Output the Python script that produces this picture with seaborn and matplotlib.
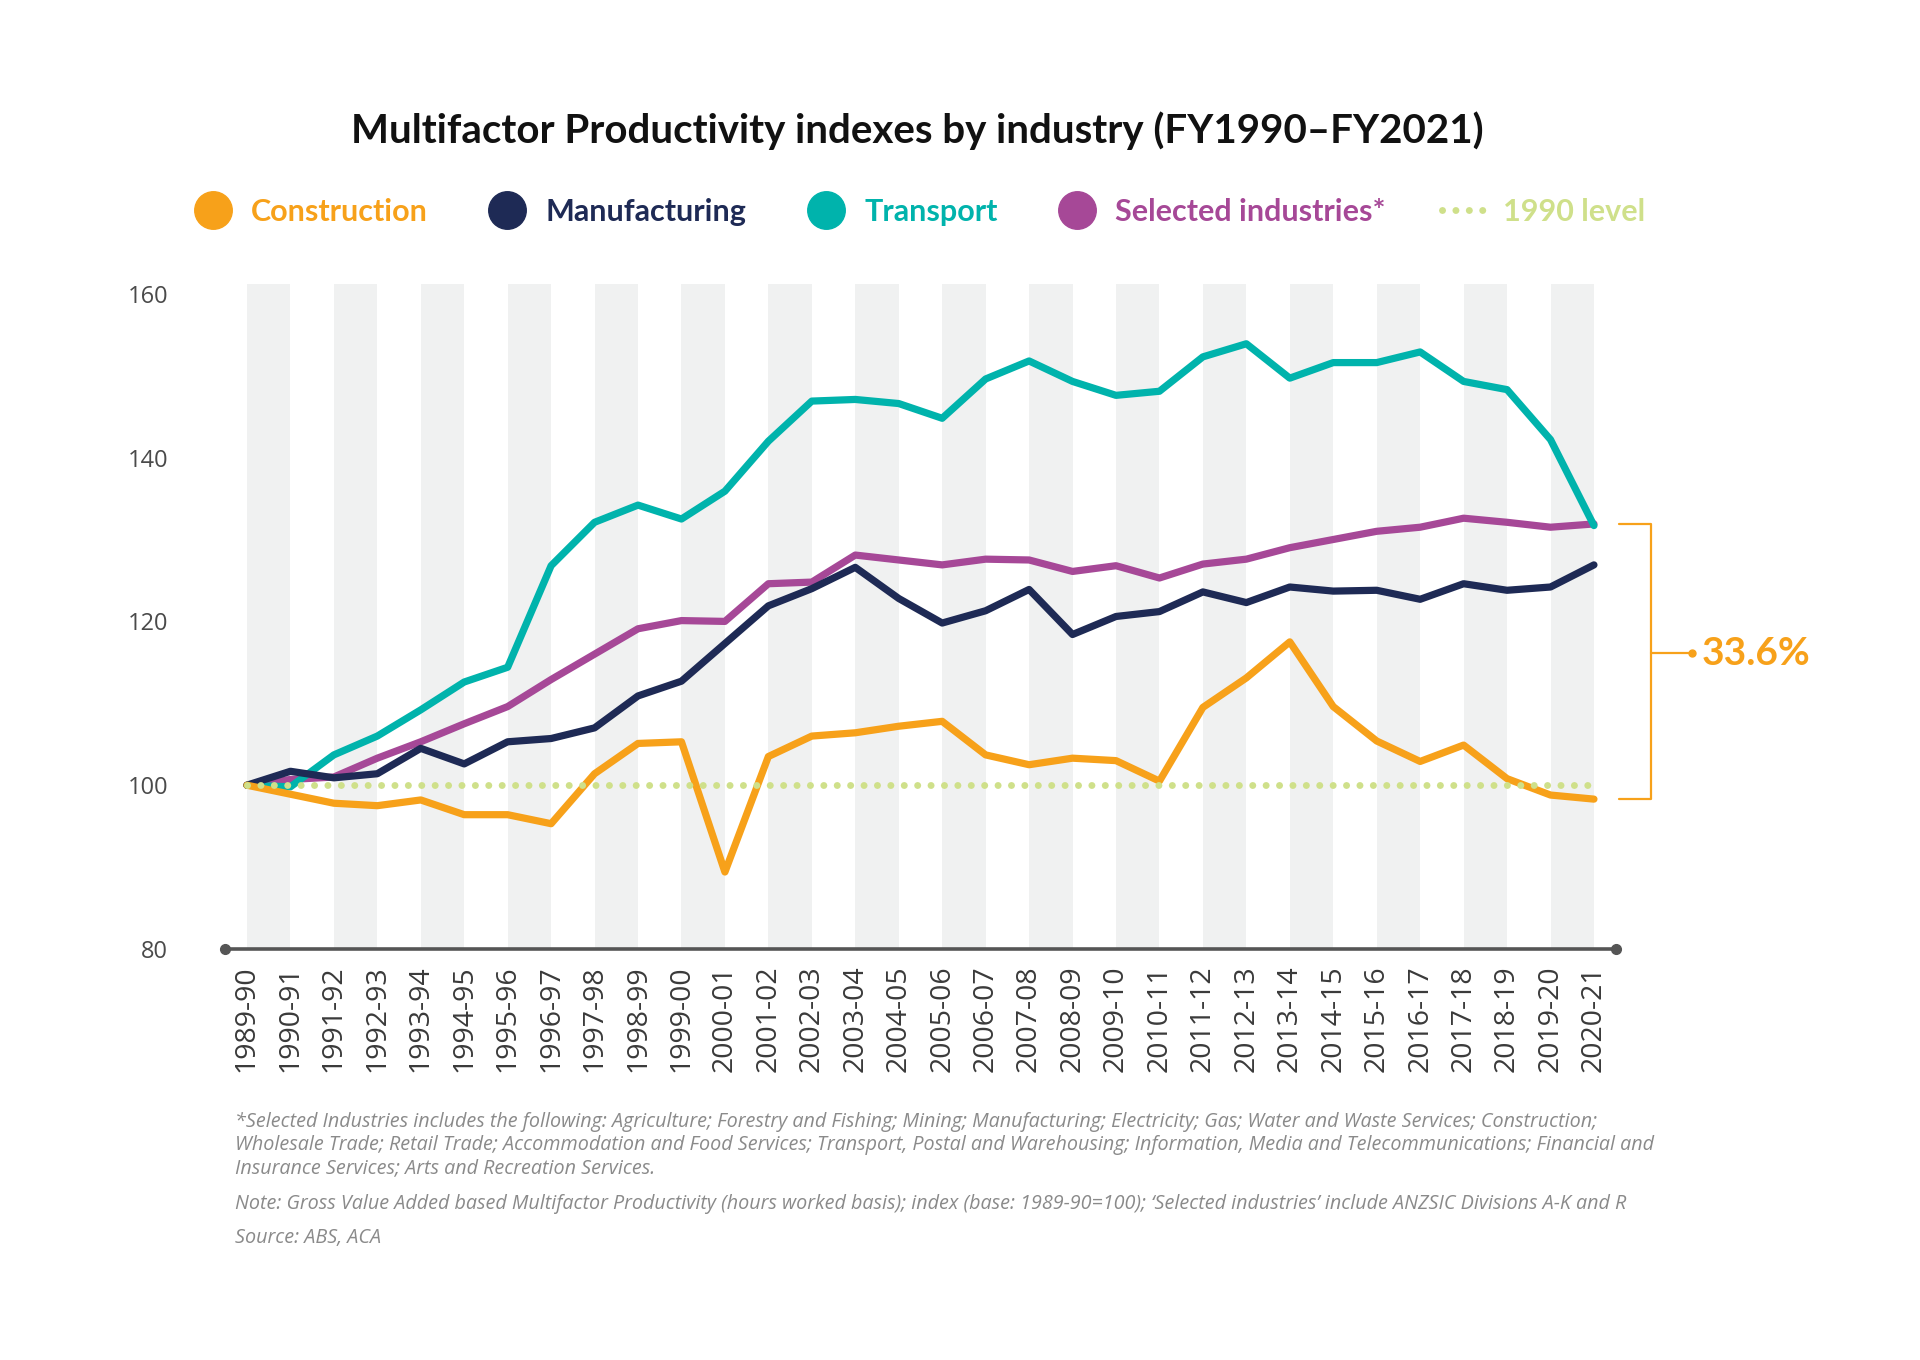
import matplotlib
matplotlib.use("Agg")
import matplotlib.pyplot as plt
import seaborn as sns
import pandas as pd
from matplotlib.lines import Line2D

# financial years on the x axis
years = ["1989-90", "1990-91", "1991-92", "1992-93", "1993-94", "1994-95", "1995-96", "1996-97",
         "1997-98", "1998-99", "1999-00", "2000-01", "2001-02", "2002-03", "2003-04", "2004-05",
         "2005-06", "2006-07", "2007-08", "2008-09", "2009-10", "2010-11", "2011-12", "2012-13",
         "2013-14", "2014-15", "2015-16", "2016-17", "2017-18", "2018-19", "2019-20", "2020-21"]

# MFP index values, base 1989-90 = 100
construction = [100, 98.9, 97.8, 97.5, 98.2, 96.4, 96.4, 95.3, 101.4, 105.1, 105.3, 89.4, 103.5, 106.0, 106.4, 107.2,
                107.8, 103.7, 102.5, 103.3, 103.0, 100.5, 109.5, 113.1, 117.5, 109.6, 105.4, 102.9, 104.9, 100.8, 98.8, 98.3]
manufacturing = [100, 101.7, 100.9, 101.4, 104.5, 102.6, 105.3, 105.7, 107.0, 110.9, 112.7, 117.3, 121.9, 124.0, 126.6, 122.8,
                 119.8, 121.3, 123.9, 118.4, 120.6, 121.2, 123.6, 122.3, 124.2, 123.7, 123.8, 122.7, 124.6, 123.8, 124.2, 126.9]
transport = [100, 99.8, 103.7, 106.0, 109.2, 112.6, 114.4, 126.8, 132.1, 134.2, 132.5, 135.9, 142.0, 146.9, 147.1, 146.6,
             144.8, 149.6, 151.8, 149.3, 147.6, 148.1, 152.3, 153.9, 149.7, 151.6, 151.6, 152.9, 149.3, 148.3, 142.2, 131.7]
selected = [100, 100.7, 101.0, 103.3, 105.3, 107.5, 109.6, 112.9, 116.0, 119.1, 120.1, 120.0, 124.6, 124.8, 128.1, 127.5,
            126.9, 127.6, 127.5, 126.1, 126.8, 125.3, 127.0, 127.6, 129.0, 130.0, 131.0, 131.5, 132.6, 132.1, 131.5, 131.9]
base_level = 100
gap_label = "33.6%"

series_names = ["Construction", "Manufacturing", "Transport", "Selected industries*"]
colors = {"Construction": "#F7A11A", "Manufacturing": "#1E2A55",
          "Transport": "#00B3AC", "Selected industries*": "#A64897"}
level_color = "#CFE08A"
axis_grey = "#555555"

rows = []
for name, vals in zip(series_names, [construction, manufacturing, transport, selected]):
    for i, v in enumerate(vals):
        rows.append({"pos": i, "year": years[i], "series": name, "value": v})
df = pd.DataFrame(rows)

sns.set_style("white")
plt.rcParams["font.family"] = ["Open Sans", "DejaVu Sans"]

fig = plt.figure(figsize=(19.2, 13.6), dpi=100)
ax = fig.add_axes([0.1173, 0.3022, 0.7242, 0.489])

# alternating grey bands
for i in range(0, len(years) - 1, 2):
    ax.axvspan(i, i + 1, color="#F0F1F1", lw=0, zorder=0)

sns.lineplot(data=df, x="pos", y="value", hue="series",
             hue_order=["Selected industries*", "Transport", "Manufacturing", "Construction"],
             palette=colors, linewidth=5.2, legend=False, ax=ax,
             solid_joinstyle="round", solid_capstyle="round", zorder=2)

dots = (0, (0.01, 1.92))
ax.hlines(base_level, 0, len(years) - 1, colors=level_color, linewidth=5,
          linestyles=dots, capstyle="round", zorder=3)

ax.set_xlim(-0.5, len(years) - 0.5)
ax.set_ylim(80, 161.2)
ax.set_xticks(range(len(years)))
ax.set_xticklabels(years, rotation=90, fontsize=20.5, color="#3a3a3a")
ax.set_yticks([80, 100, 120, 140, 160])
ax.set_yticklabels(["80", "100", "120", "140", "160"], fontsize=17, color="#4a4a4a")
ax.tick_params(axis="x", direction="out", length=10, width=2.5, color=axis_grey, pad=2)
ax.tick_params(axis="y", length=0, pad=41)
ax.set_xlabel("")
ax.set_ylabel("")
for s in ["left", "top", "right"]:
    ax.spines[s].set_visible(False)
ax.spines["bottom"].set_color(axis_grey)
ax.spines["bottom"].set_linewidth(2.6)
ax.plot(ax.get_xlim(), [80, 80], "o", ms=7, color=axis_grey, clip_on=False, zorder=5)

# bracket showing the gap at the last year
last = len(years) - 1
top_v, bot_v = selected[-1], construction[-1]
mid_v = (top_v + bot_v) / 2 + 1
bc = colors["Construction"]
ax.plot([last + 0.57, last + 1.31, last + 1.31, last + 0.57], [top_v, top_v, bot_v, bot_v],
        color=bc, lw=1.6, clip_on=False)
ax.plot([last + 1.31, last + 2.26], [mid_v, mid_v], color=bc, lw=1.6, clip_on=False)
ax.plot([last + 2.26], [mid_v], "o", ms=5, color=bc, clip_on=False)
ax.text(last + 2.47, mid_v, gap_label, color=bc, fontsize=28, fontweight="bold",
        family=["Lato", "DejaVu Sans"], va="center", ha="left")

fig.text(0.478, 0.9037, "Multifactor Productivity indexes by industry (FY1990\u2013FY2021)",
         ha="center", va="center", fontsize=29, fontweight="bold", color="#111111",
         family=["Lato", "DejaVu Sans"])

handles = [Line2D([], [], marker="o", ls="", ms=27, color=colors[n]) for n in series_names]
handles.append(Line2D([], [], color=level_color, lw=5, ls=dots, dash_capstyle="round"))
labels = series_names + ["1990 level"]
leg = fig.legend(handles, labels, loc="center", bbox_to_anchor=(0.478, 0.844), ncol=5, frameon=False,
                 prop={"family": ["Lato", "DejaVu Sans"], "weight": "bold", "size": 22},
                 handlelength=1.5, handletextpad=0.5, columnspacing=1.85)
for txt, c in zip(leg.get_texts(), [colors[n] for n in series_names] + [level_color]):
    txt.set_color(c)

note_kw = dict(fontsize=14.2, style="italic", color="#8a8a8a", ha="left")
fig.text(0.1224, 0.1822,
         "*Selected Industries includes the following: Agriculture; Forestry and Fishing; Mining; Manufacturing; Electricity; Gas; Water and Waste Services; Construction;\n"
         "Wholesale Trade; Retail Trade; Accommodation and Food Services; Transport, Postal and Warehousing; Information, Media and Telecommunications; Financial and\n"
         "Insurance Services; Arts and Recreation Services.",
         va="top", linespacing=1.2, **note_kw)
fig.text(0.1224, 0.1150,
         "Note: Gross Value Added based Multifactor Productivity (hours worked basis); index (base: 1989-90=100); \u2018Selected industries\u2019 include ANZSIC Divisions A-K and R",
         va="center", **note_kw)
fig.text(0.1224, 0.0895, "Source: ABS, ACA", va="center", **note_kw)

fig.savefig("out.png", dpi=100, facecolor="white")
